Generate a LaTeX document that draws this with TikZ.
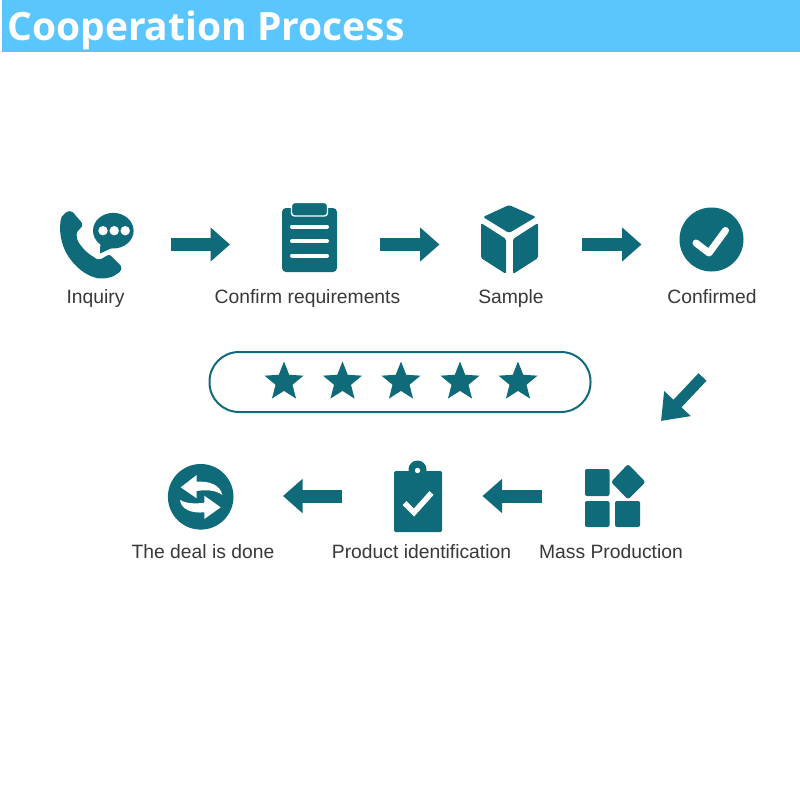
\documentclass[tikz,border=0pt]{standalone}
\usepackage{fontspec}
\setmainfont{Liberation Sans}
\newfontfamily\titlefont{Open Sans}
\usetikzlibrary{arrows.meta,shapes.geometric}
\definecolor{teal0}{HTML}{0F6B7A}
\definecolor{sky0}{HTML}{5BC5FD}
\definecolor{ink0}{HTML}{383838}
\tikzset{
  lbl/.style={text=ink0,font=\fontsize{19.3}{21}\selectfont,inner sep=0pt,anchor=base},
  blockarrow/.style={teal0,line width=13pt,-{Triangle[length=19.5pt,width=33pt]},shorten >=0pt},
  iconfill/.style={fill=teal0,draw=none},
  whiteline/.style={draw=white,line width=4pt,line cap=round},
  starshape/.style={star,star points=5,star point ratio=2.3,fill=teal0,draw=none,minimum size=41pt,inner sep=0pt},
}
\begin{document}
\begin{tikzpicture}[x=1pt,y=-1pt]
\useasboundingbox (0,0) rectangle (800,800);
\fill[white] (0,0) rectangle (800,800);
% header
\fill[sky0] (2,0) rectangle (800,52);
\node[anchor=base west,inner sep=0pt,text=white,font=\titlefont\bfseries\fontsize{39}{42}\selectfont] (title) at (7,41) {Cooperation Process};

% inquiry icon
\path[fill=teal0,draw=teal0,line width=1.6pt,line join=round] (70,212)
  .. controls (72,212) and (74,214) .. (75,216)
  -- (81,223) .. controls (82,225) and (81.5,227) .. (79.5,228)
  -- (76,232)
  .. controls (75.5,238) and (76.5,241) .. (79,244.5)
  .. controls (83,250) and (87.5,254.5) .. (93,257.5)
  .. controls (96,260) and (99,261) .. (101,260)
  -- (107,256.5) .. controls (108,255.5) and (110,255.5) .. (111,257)
  -- (120,266) .. controls (121,268) and (121,270) .. (119,271.5)
  -- (113,275.5)
  .. controls (108,277.5) and (103,278) .. (98,277.5)
  .. controls (91,276) and (86,273) .. (82,270)
  .. controls (73,263) and (67,254) .. (64.5,247)
  .. controls (61.5,239) and (60.5,232) .. (61,226)
  .. controls (61,222) and (61.5,219) .. (62.5,217)
  -- (66,213.5) .. controls (67,212.5) and (68.5,212) .. (70,212) -- cycle;
\path[iconfill] (113.3,230.7) ellipse [x radius=20.3,y radius=17.8];
\path[iconfill] (100.5,240) -- (100,253.5) -- (114,247) -- cycle;
\foreach \x in {103,114.2,125.2} \fill[white] (\x,230.7) circle (4.7);
\node[lbl] (inquiry) at (95.5,303.5) {Inquiry};

% clipboard icon
\path[iconfill,rounded corners=4pt] (282,208) rectangle (337,272);
\path[fill=teal0,draw=white,line width=1.4pt,rounded corners=3pt] (291.5,202.5) rectangle (327.5,216);
\foreach \y in {226.5,241,255.5} \draw[whiteline] (292,\y) -- (327,\y);
\node[lbl] (confirmreq) at (307.5,303.5) {Confirm requirements};

% cube icon
\path[iconfill,rounded corners=1.5pt] (509,205) -- (536,217) -- (509,233) -- (483,217) -- cycle;
\path[iconfill,rounded corners=1.5pt] (481,223) -- (506,239) -- (506,274) -- (481,258) -- cycle;
\path[iconfill,rounded corners=1.5pt] (538,223) -- (513,239) -- (513,274) -- (538,258) -- cycle;
\node[lbl] (sample) at (511,303.5) {Sample};

% confirmed icon
\fill[teal0] (711.5,239.5) circle (32);
\draw[white,line width=7pt,line cap=round,line join=round] (696,243) -- (709,253) -- (725.5,230.5);
\node[lbl] (confirmed) at (712,303.5) {Confirmed};

% pill with stars
\node[draw=teal0,line width=2pt,rounded corners=29.5pt,minimum width=381pt,minimum height=60pt,inner sep=0pt] (pill) at (400,382) {};
\foreach \x/\n in {284/a,342.5/b,401/c,460/d,518/e}
  \node[starshape] (star\n) at (\x,382) {};

% mass production icon
\path[iconfill,rounded corners=2pt] (585,469) rectangle (609.5,496);
\path[iconfill,rounded corners=2pt] (585,501) rectangle (609.5,527);
\path[iconfill,rounded corners=2pt] (615,501) rectangle (640,527);
\path[iconfill,rounded corners=2.5pt] (628,464) -- (645.5,482) -- (628,499.5) -- (611,482) -- cycle;
\node[lbl] (mass) at (611,558.5) {Mass Production};

% tag icon
\fill[teal0] (417.5,469.5) circle (9);
\path[iconfill,rounded corners=1.5pt] (394,471) rectangle (442,532);
\fill[white] (417.5,470.5) circle (2.7);
\draw[white,line width=5.5pt] (404.5,503) -- (414,512.5) -- (431.5,493);
\node[lbl] (product) at (421.5,558.5) {Product identification};

% deal icon
\fill[teal0] (200.7,496.8) circle (32.8);
\path[fill=white] (180.7,487.3) -- (196.7,475) -- (196.7,481.7)
  .. controls (208,481) and (220,484) .. (222.3,495)
  .. controls (216,490) and (206,489.5) .. (196.7,491) -- (196.7,498.3) -- cycle;
\path[fill=white] (220.7,507.3) -- (204.3,495.7) -- (204.3,502.7)
  .. controls (195,504) and (186,503.5) .. (180,500)
  .. controls (181,510) and (193,513.5) .. (204.3,512.3) -- (204.3,519) -- cycle;
\node[lbl] (deal) at (203,558.5) {The deal is done};

% connectors
\coordinate (a1s) at (171,244.5); \coordinate (a1e) at (230,244.5);
\coordinate (a2s) at (380,244.5); \coordinate (a2e) at (439.5,244.5);
\coordinate (a3s) at (582,244.5); \coordinate (a3e) at (641.5,244.5);
\coordinate (a4s) at (702.5,377); \coordinate (a4e) at (661,421);
\coordinate (a5s) at (541.5,496); \coordinate (a5e) at (482.5,496);
\coordinate (a6s) at (342,496);   \coordinate (a6e) at (283,496);
\draw[blockarrow] (a1s) -- (a1e);
\draw[blockarrow] (a2s) -- (a2e);
\draw[blockarrow] (a3s) -- (a3e);
\draw[blockarrow,line width=11pt,-{Triangle[length=24pt,width=35pt]}] (a4s) -- (a4e);
\draw[blockarrow] (a5s) -- (a5e);
\draw[blockarrow] (a6s) -- (a6e);
\end{tikzpicture}
\end{document}
